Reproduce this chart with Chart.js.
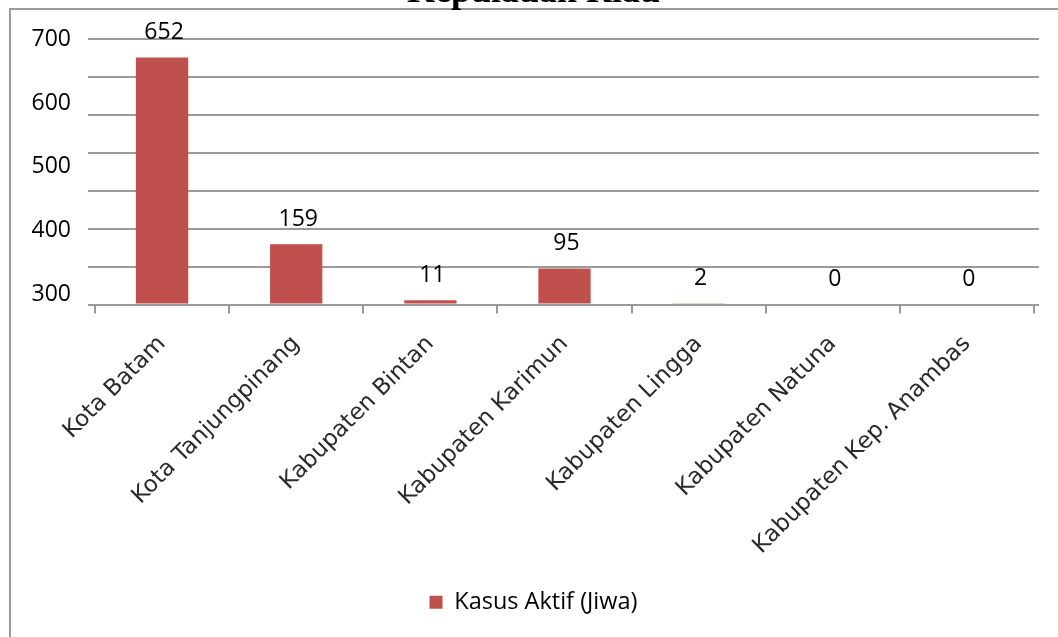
<!DOCTYPE html>
<html>
<head>
<meta charset="utf-8">
<script src="https://cdn.jsdelivr.net/npm/chart.js@4.4.1/dist/chart.umd.min.js"></script>
<style>
  html, body { margin: 0; padding: 0; background: #ffffff; overflow: hidden; }
  body { width: 1058px; height: 637px; position: relative; }
  #frame { position: absolute; left: 9px; top: 8px; width: 1200px; height: 800px;
           border-left: 2px solid #9a9a9a; border-top: 2px solid #9a9a9a; }
  #wrap { position: absolute; left: 0; top: -40px; width: 1058px; height: 677px; }
</style>
</head>
<body>
<div id="frame"></div>
<div id="wrap"><canvas id="c" width="1058" height="677"></canvas></div>
<script>
// ---- data ----
const titleText = 'Kepulauan Riau';
const categories = ['Kota Batam', 'Kota Tanjungpinang', 'Kabupaten Bintan', 'Kabupaten Karimun',
                    'Kabupaten Lingga', 'Kabupaten Natuna', 'Kabupaten Kep. Anambas'];
const seriesName = 'Kasus Aktif (Jiwa)';
const activeCases = [652, 159, 11, 95, 2, 0, 0];
const yTickLabels = [300, 400, 500, 600, 700];

const RED = '#C0504D';
const GRID = '#9a9a9a';

const valueLabels = {
  id: 'valueLabels',
  afterDatasetsDraw(chart) {
    const ctx = chart.ctx;
    const meta = chart.getDatasetMeta(0);
    ctx.save();
    ctx.font = '23px "Open Sans"';
    ctx.fillStyle = '#000000';
    ctx.textAlign = 'center';
    ctx.textBaseline = 'middle';
    meta.data.forEach((bar, i) => {
      ctx.fillText(String(activeCases[i]), bar.x + 2, bar.y - 25);
    });
    ctx.restore();
  }
};

new Chart(document.getElementById('c'), {
  type: 'bar',
  data: {
    labels: categories,
    datasets: [{
      label: seriesName,
      data: activeCases,
      backgroundColor: RED,
      borderWidth: 0,
      barPercentage: 0.39,
      categoryPercentage: 1.0
    }]
  },
  options: {
    responsive: false,
    animation: false,
    events: [],
    layout: { padding: { left: 28, right: 19, top: 0, bottom: 13 } },
    plugins: {
      title: {
        display: true,
        text: titleText,
        color: '#000000',
        font: { family: '"Liberation Serif", serif', size: 36, weight: 'bold', lineHeight: 1.2 },
        padding: { top: 11, bottom: 25 }
      },
      legend: {
        display: true,
        position: 'bottom',
        labels: {
          boxWidth: 13, boxHeight: 13,
          padding: 30,
          color: '#000000',
          font: { family: '"Open Sans"', size: 23.5 }
        }
      },
      tooltip: { enabled: false }
    },
    scales: {
      x: {
        grid: { display: true, offset: true, drawOnChartArea: false, drawTicks: true,
                tickLength: 9, color: GRID, lineWidth: 2 },
        border: { display: true, color: GRID, width: 2 },
        ticks: { autoSkip: false, minRotation: 45, maxRotation: 45, padding: 17,
                 color: '#2a2a2a', font: { family: '"DejaVu Sans"', size: 23 } },
        afterFit(scale) { scale.height = 256; }
      },
      y: {
        position: 'left',
        weight: 0,
        min: 0, max: 700,
        grid: { color: GRID, lineWidth: 2, drawTicks: true, tickLength: 7 },
        border: { display: false },
        ticks: { display: false, stepSize: 100 },
        afterFit(scale) { scale.width = 7; }
      },
      yLabels: {
        position: 'left',
        weight: 1,
        min: 284.375, max: 700,
        grid: { display: false, drawTicks: false, tickLength: 0 },
        border: { display: false },
        ticks: { padding: 17, color: '#000000', font: { family: '"Open Sans"', size: 23 } },
        afterBuildTicks(scale) { scale.ticks = yTickLabels.map(v => ({ value: v })); },
        afterFit(scale) { scale.width = 60; }
      },
      yRight: {
        position: 'right',
        min: 0, max: 700,
        grid: { color: GRID, lineWidth: 2, drawOnChartArea: false, drawTicks: true, tickLength: 5 },
        border: { display: false },
        ticks: { display: false, stepSize: 100 },
        afterFit(scale) { scale.width = 5; }
      }
    }
  },
  plugins: [valueLabels]
});
</script>
</body>
</html>
